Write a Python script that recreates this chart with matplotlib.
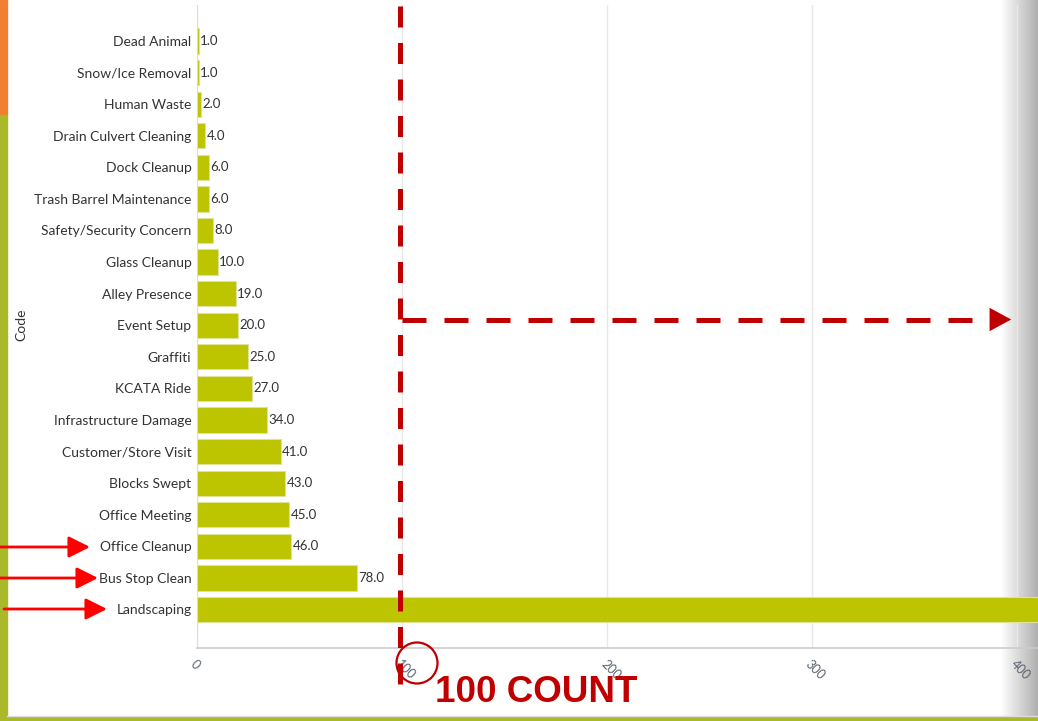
import numpy as np
import matplotlib.pyplot as plt
from matplotlib.patches import Rectangle, Circle, FancyArrowPatch
from matplotlib.lines import Line2D
import matplotlib.transforms as mtransforms

categories = ["Dead Animal", "Snow/Ice Removal", "Human Waste", "Drain Culvert Cleaning",
              "Dock Cleanup", "Trash Barrel Maintenance", "Safety/Security Concern",
              "Glass Cleanup", "Alley Presence", "Event Setup", "Graffiti", "KCATA Ride",
              "Infrastructure Damage", "Customer/Store Visit", "Blocks Swept",
              "Office Meeting", "Office Cleanup", "Bus Stop Clean", "Landscaping"]
counts = [1, 1, 2, 4, 6, 6, 8, 10, 19, 20, 25, 27, 34, 41, 43, 45, 46, 78, 480]
xticks = [0, 100, 200, 300, 400]
marked = ["Office Cleanup", "Bus Stop Clean", "Landscaping"]

W, H = 1038, 721
fig = plt.figure(figsize=(W / 100, H / 100), dpi=100)
fig.patch.set_facecolor("white")


def px(x, y):
    # pixel coords from top-left -> figure fraction
    return x / W, 1 - y / H


# background shadow on the right edge
bg = fig.add_axes([0, 0, 1, 1], zorder=-5)
grad = np.ones((2, W))
xs = np.arange(W)
grad[:, :] = np.clip(1 - np.clip(xs - 1000, 0, None) / 38 * 0.32, 0, 1)
bg.imshow(grad, cmap="gray", vmin=0, vmax=1, aspect="auto", extent=[0, 1, 0, 1])
bg.set_xlim(0, 1)
bg.set_ylim(0, 1)
bg.axis("off")

# page strips
fig.patches.append(Rectangle(px(0, 115), 7 / W, 115 / H, transform=fig.transFigure,
                             color="#F08030", zorder=1))
fig.patches.append(Rectangle(px(0, 721), 7 / W, 606 / H, transform=fig.transFigure,
                             color="#A9B92A", zorder=1))
fig.patches.append(Rectangle(px(0, 721), 1, 4 / H, transform=fig.transFigure,
                             color="#A9B92A", zorder=1))
fig.lines.append(Line2D([7 / W, 1], [1 - 715.5 / H] * 2, transform=fig.transFigure,
                        color="#dddddd", lw=1))

# main axes
x0, x1, ytop, ybot = 197, W, 5, 648
ax = fig.add_axes([x0 / W, 1 - ybot / H, (x1 - x0) / W, (ybot - ytop) / H])
ax.patch.set_alpha(0)
n = len(categories)
ypos = np.arange(n)[::-1]
ax.barh(ypos, counts, height=0.8, color="#BDC400", edgecolor="#dfe39a", linewidth=0.8,
        zorder=3)
for y, v in zip(ypos, counts):
    if v < 410:
        ax.text(v + 0.6, y, f"{v:.1f}", va="center", ha="left", fontsize=9.5,
                family="Lato", color="#333333", zorder=4)

ax.set_xlim(0, (x1 - x0) / 2.05)
ax.set_ylim(-1.22, 19.14)
ax.set_yticks(ypos)
ax.set_yticklabels(categories, family="Lato", fontsize=10, color="#333333")
ax.set_xticks(xticks)
ax.set_xticklabels([str(t) for t in xticks], family="Lato", fontsize=9, color="#5a6270",
                   rotation=-45, ha="left", va="top", rotation_mode="anchor")
ax.tick_params(axis="both", length=0)
ax.tick_params(axis="x", pad=7)
ax.tick_params(axis="y", pad=4)
ax.grid(axis="x", color="#e8e8e8", lw=1, zorder=0)
for s in ["top", "right"]:
    ax.spines[s].set_visible(False)
ax.spines["left"].set_color("#dddddd")
ax.spines["bottom"].set_color("#cccccc")
ax.spines["bottom"].set_linewidth(1.2)
fig.text(*px(21, 325), "Code", rotation=90, family="Lato", fontsize=10, color="#333333",
         ha="center", va="center")

# red annotations
red = "#C00000"
fig.lines.append(Line2D([399.5 / W] * 2, [1 - 6 / H, 1 - 698 / H], transform=fig.transFigure,
                        color=red, lw=3.6, linestyle=(0, (4.2, 3.1))))
hx0, hy = px(402, 319.5)
hx1, _ = px(1000, 319.5)
fig.lines.append(Line2D([hx0, hx1], [hy, hy], transform=fig.transFigure, color=red,
                        lw=3.6, linestyle=(0, (4.8, 3.6))))
fig.patches.append(FancyArrowPatch(px(990, 319.5), px(1014, 319.5), transform=fig.transFigure,
                                   arrowstyle="-|>,head_length=12,head_width=6.5",
                                   mutation_scale=1.3, color=red, lw=0))
circ = Circle((417, H - 663), 20.5, transform=mtransforms.IdentityTransform(),
              fill=False, edgecolor=red, lw=1.6)
fig.patches.append(circ)
fig.text(*px(435, 693), "100 COUNT", family="Liberation Sans", fontweight="bold",
         fontsize=26.5, color=red, ha="left", va="center")

arrow_rows = {"Office Cleanup": (0, 90, 547), "Bus Stop Clean": (0, 98, 578),
              "Landscaping": (4, 107, 609)}
for name in marked:
    xs0, xt, yy = arrow_rows[name]
    fig.patches.append(FancyArrowPatch(px(xs0, yy), px(xt, yy), transform=fig.transFigure,
                                       arrowstyle="-|>,head_length=13,head_width=6.5",
                                       mutation_scale=1.0, color="#FF0000", lw=2,
                                       shrinkA=0, shrinkB=0, zorder=5))

fig.savefig("out.png", dpi=100)
